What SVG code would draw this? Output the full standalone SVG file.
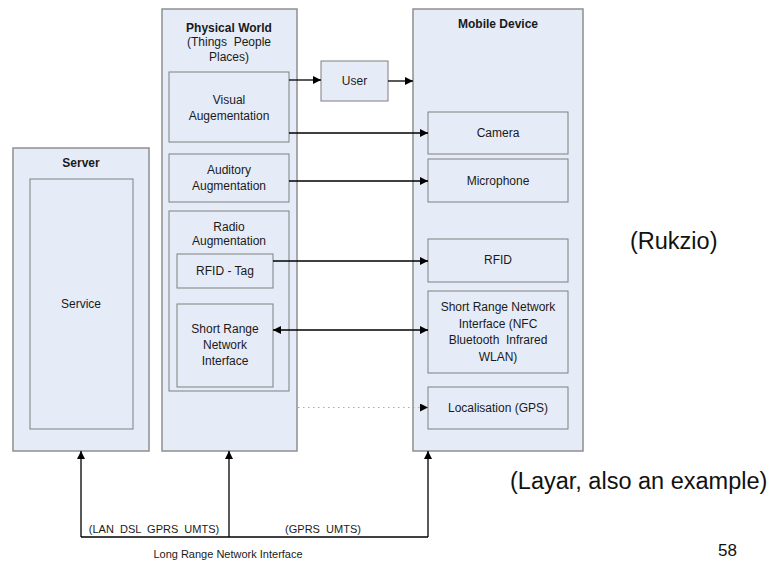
<svg xmlns="http://www.w3.org/2000/svg" width="775" height="561" viewBox="0 0 775 561">
<defs>
<marker id="ah" viewBox="0 0 10 10" refX="10" refY="5" markerWidth="8" markerHeight="8" markerUnits="userSpaceOnUse" orient="auto-start-reverse">
<path d="M0,0 L10,5 L0,10 z" fill="#000"/>
</marker>
<style>
.box{fill:#e6ecf7;stroke:#7f7f7f;stroke-width:1}
.outer{fill:#e6ecf7;stroke:#8f8f8f;stroke-width:1.5}
.t{font-family:"Liberation Sans",Arial,sans-serif;font-size:12px;fill:#1a1a1a;text-anchor:middle;white-space:pre}
.b{font-weight:bold}
.s{font-size:11px}
.big{font-family:"Liberation Sans",Arial,sans-serif;font-size:23.5px;fill:#111}
.c{stroke:#000;stroke-width:1.3;fill:none}
</style>
</defs>
<rect width="775" height="561" fill="#fff"/>

<g id="server">
<rect class="outer" x="13" y="148" width="136" height="303"/>
<text class="t b" x="81" y="167">Server</text>
</g>
<g id="service">
<rect class="box" x="30" y="179" width="103" height="250"/>
<text class="t" x="81" y="308">Service</text>
</g>

<g id="physical-world">
<rect class="outer" x="162" y="9" width="135" height="442"/>
<text class="t b" x="229" y="32">Physical World</text>
<text class="t" x="229" y="46" xml:space="preserve">(Things  People</text>
<text class="t" x="229" y="61">Places)</text>
</g>
<g id="visual">
<rect class="box" x="169" y="72" width="120" height="70"/>
<text class="t" x="229" y="104">Visual</text>
<text class="t" x="229" y="120">Augementation</text>
</g>
<g id="auditory">
<rect class="box" x="169" y="154" width="120" height="48"/>
<text class="t" x="229" y="174">Auditory</text>
<text class="t" x="229" y="190">Augmentation</text>
</g>
<g id="radio">
<rect class="box" x="169" y="211" width="120" height="180"/>
<text class="t" x="229" y="231">Radio</text>
<text class="t" x="229" y="245">Augmentation</text>
</g>
<g id="rfid-tag">
<rect class="box" x="177" y="254" width="96" height="34"/>
<text class="t" x="225" y="275">RFID - Tag</text>
</g>
<g id="short-range-pw">
<rect class="box" x="177" y="304" width="96" height="83"/>
<text class="t" x="225" y="333">Short Range</text>
<text class="t" x="225" y="349">Network</text>
<text class="t" x="225" y="365">Interface</text>
</g>

<g id="user">
<rect class="box" x="321" y="61" width="67" height="40"/>
<text class="t" x="354.5" y="85">User</text>
</g>

<g id="mobile-device">
<rect class="outer" x="413" y="9" width="170" height="442"/>
<text class="t b" x="498" y="28">Mobile Device</text>
</g>
<g id="camera">
<rect class="box" x="428" y="112" width="140" height="42"/>
<text class="t" x="498" y="137">Camera</text>
</g>
<g id="microphone">
<rect class="box" x="428" y="159" width="140" height="43"/>
<text class="t" x="498" y="185">Microphone</text>
</g>
<g id="rfid">
<rect class="box" x="428" y="239" width="140" height="43"/>
<text class="t" x="498" y="264">RFID</text>
</g>
<g id="short-range-md">
<rect class="box" x="428" y="291" width="140" height="82"/>
<text class="t" x="498" y="311">Short Range Network</text>
<text class="t" x="498" y="328">Interface (NFC</text>
<text class="t" x="498" y="344" xml:space="preserve">Bluetooth  Infrared</text>
<text class="t" x="498" y="361">WLAN)</text>
</g>
<g id="localisation">
<rect class="box" x="428" y="387" width="140" height="42"/>
<text class="t" x="498" y="412">Localisation (GPS)</text>
</g>

<g id="connectors">
<line class="c" x1="289" y1="80" x2="321" y2="80" marker-end="url(#ah)"/>
<line class="c" x1="388" y1="81" x2="413" y2="81" marker-end="url(#ah)"/>
<line class="c" x1="289" y1="133" x2="428" y2="133" marker-end="url(#ah)"/>
<line class="c" x1="289" y1="181" x2="428" y2="181" marker-end="url(#ah)"/>
<line class="c" x1="273" y1="261" x2="428" y2="261" marker-end="url(#ah)"/>
<line class="c" x1="273" y1="330" x2="428" y2="330" marker-start="url(#ah)" marker-end="url(#ah)"/>
<line x1="298" y1="407.5" x2="428" y2="407.5" stroke="#aaa" stroke-width="1.2" stroke-dasharray="1.5,3.5" marker-end="url(#ah)"/>
<polyline class="c" points="81,537 428,537"/>
<line class="c" x1="81" y1="537" x2="81" y2="451" marker-end="url(#ah)"/>
<line class="c" x1="229" y1="537" x2="229" y2="451" marker-end="url(#ah)"/>
<line class="c" x1="428" y1="537" x2="428" y2="451" marker-end="url(#ah)"/>
<text class="t s" x="154" y="533" xml:space="preserve">(LAN  DSL  GPRS  UMTS)</text>
<text class="t s" x="323" y="533" xml:space="preserve">(GPRS  UMTS)</text>
<text class="t s" x="228" y="558">Long Range Network Interface</text>
</g>

<text class="big" x="630" y="249">(Rukzio)</text>
<text class="big" x="510" y="489">(Layar, also an example)</text>
<text class="big" x="718" y="556" style="font-size:17px">58</text>
</svg>
